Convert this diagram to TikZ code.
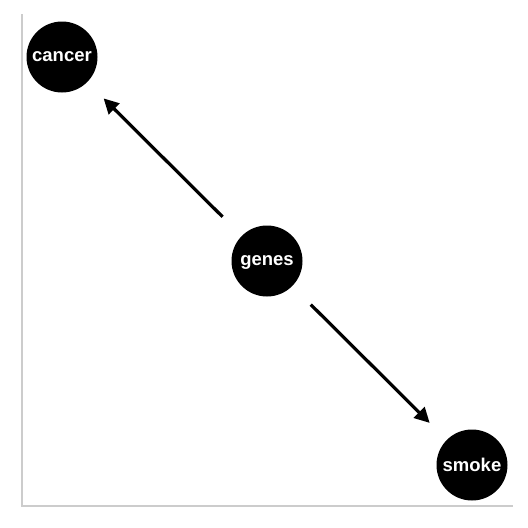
\documentclass[tikz,border=0pt]{standalone}
\usepackage{fontspec}
\setmainfont{Liberation Sans}
\usetikzlibrary{arrows.meta}
\begin{document}
\begin{tikzpicture}[x=1pt,y=-1pt,
  dagnode/.style={circle,fill=black,draw=none,minimum size=71pt,inner sep=0pt,
    text depth=0pt,text=white,font=\fontsize{18.5}{18.5}\selectfont\bfseries},
  dagedge/.style={line width=3.2pt,-{Triangle[length=15pt,width=15pt]}},
  axisline/.style={draw={rgb,255:red,204;green,204;blue,204},line width=2.2pt}]
\useasboundingbox (0,0) rectangle (528,528);
\coordinate (ytop) at (22,14);
\coordinate (origin) at (22,506);
\coordinate (xend) at (513,506);
\draw[axisline] (ytop) -- (origin) -- (xend);
\node[dagnode] (cancer) at (62,57) {cancer};
\node[dagnode] (genes) at (267,261) {genes};
\node[dagnode] (smoke) at (472,465) {smoke};
\draw[dagedge,shorten <=27pt,shorten >=23pt] (genes) -- (cancer);
\draw[dagedge,shorten <=26pt,shorten >=24pt] (genes) -- (smoke);
\end{tikzpicture}
\end{document}
